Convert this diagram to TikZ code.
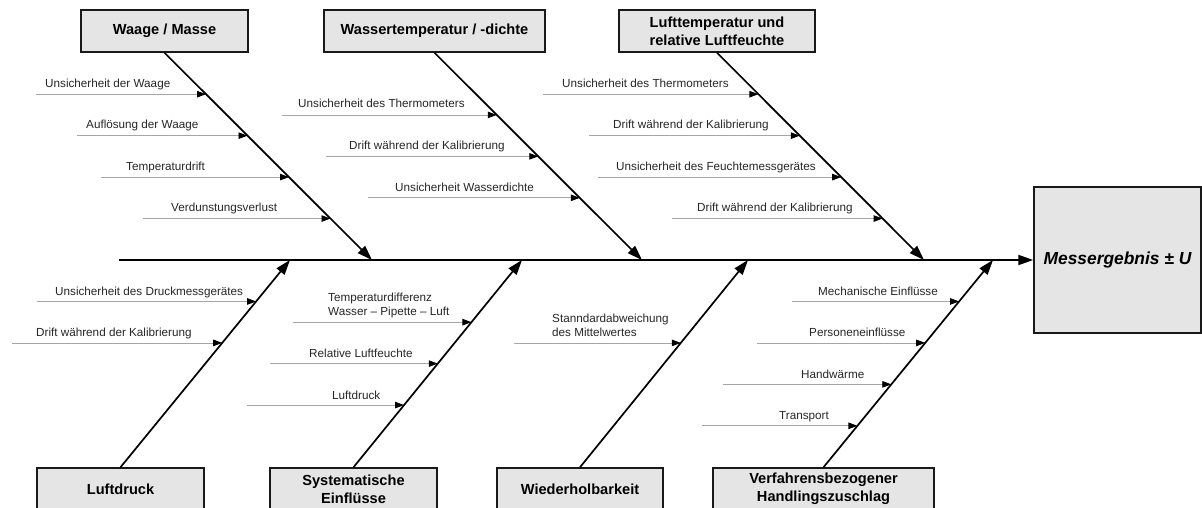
\documentclass[tikz,border=0pt]{standalone}
\usepackage{fontspec}
\setmainfont{Liberation Sans}
\usetikzlibrary{positioning,arrows.meta}
\tikzset{cause/.style = {draw=black!90, fill=black!10, line width=1.5pt, rectangle, minimum height=42pt, minimum width=167pt, align=center, font=\fontsize{14.6}{18}\selectfont\bfseries},
         result/.style = {draw=black!90, fill=black!10, line width=1.5pt, rectangle, minimum height=146pt, minimum width=167pt, font=\fontsize{17.4}{20}\selectfont\bfseries\itshape},
         bone/.style = {line width=1.7pt, -{Triangle[length=15pt,width=10pt]}},
         twig/.style = {draw=black!35, line width=0.8pt, -{Triangle[length=9pt,width=6.5pt,color=black]}},
         lbl/.style = {anchor=base west, inner sep=0pt, align=left, text=black!85, font=\fontsize{11.7}{14}\selectfont}}
\begin{document}
\begin{tikzpicture}[x=1pt,y=-1pt]
        \useasboundingbox (0,0) rectangle (1202,508);

        \node[cause] (waage) at (164.5,31) {Waage / Masse};
        \node[cause, minimum width=221pt] (wasser) at (434.5,31) {Wassertemperatur / -dichte};
        \node[cause, minimum width=196pt] (luft) at (717,31) {Lufttemperatur und\\relative Luftfeuchte};
        \node[cause] (druck) at (120.5,489) {Luftdruck};
        \node[cause] (syst) at (353.5,489) {Systematische\\Einflüsse};
        \node[cause, minimum width=166pt] (wdh) at (580,489) {Wiederholbarkeit};
        \node[cause, minimum width=221pt] (hand) at (823.5,489) {Verfahrensbezogener\\Handlingszuschlag};
        \node[result] (erg) at (1117.5,260) {Messergebnis ± U};

        \coordinate (tail) at (119,260);
        \coordinate (j1) at (372,260);
        \coordinate (j2) at (642,260);
        \coordinate (j3) at (924,260);
        \coordinate (j4) at (290,260);
        \coordinate (j5) at (522,260);
        \coordinate (j6) at (748,260);
        \coordinate (j7) at (993,260);

        \draw[bone, line width=1.9pt] (tail) -- (erg.west);
        \draw[bone] (waage.south) -- (j1);
        \draw[bone] (wasser.south) -- (j2);
        \draw[bone] (luft.south) -- (j3);
        \draw[bone] (druck.north) -- (j4);
        \draw[bone] (syst.north) -- (j5);
        \draw[bone] (wdh.north) -- (j6);
        \draw[bone] (hand.north) -- (j7);

        \path (waage.south) -- (j1) coordinate[pos=.2] (w1) coordinate[pos=.4] (w2) coordinate[pos=.6] (w3) coordinate[pos=.8] (w4);
        \path (wasser.south) -- (j2) coordinate[pos=.3] (t1) coordinate[pos=.5] (t2) coordinate[pos=.7] (t3);
        \path (luft.south) -- (j3) coordinate[pos=.2] (l1) coordinate[pos=.4] (l2) coordinate[pos=.6] (l3) coordinate[pos=.8] (l4);
        \path (druck.north) -- (j4) coordinate[pos=.6] (p1) coordinate[pos=.8] (p2);
        \path (syst.north) -- (j5) coordinate[pos=.3] (s1) coordinate[pos=.5] (s2) coordinate[pos=.7] (s3);
        \path (wdh.north) -- (j6) coordinate[pos=.6] (r1);
        \path (hand.north) -- (j7) coordinate[pos=.2] (h1) coordinate[pos=.4] (h2) coordinate[pos=.6] (h3) coordinate[pos=.8] (h4);

        \coordinate[left=170pt of w1] (w1s);
        \coordinate[left=170pt of w2] (w2s);
        \coordinate[left=188pt of w3] (w3s);
        \coordinate[left=188pt of w4] (w4s);
        \coordinate[left=215pt of t1] (t1s);
        \coordinate[left=212pt of t2] (t2s);
        \coordinate[left=212pt of t3] (t3s);
        \coordinate[left=215pt of l1] (l1s);
        \coordinate[left=211pt of l2] (l2s);
        \coordinate[left=243pt of l3] (l3s);
        \coordinate[left=211pt of l4] (l4s);
        \coordinate[left=210pt of p1] (p1s);
        \coordinate[left=219pt of p2] (p2s);
        \coordinate[left=157pt of s1] (s1s);
        \coordinate[left=168pt of s2] (s2s);
        \coordinate[left=178pt of s3] (s3s);
        \coordinate[left=167pt of r1] (r1s);
        \coordinate[left=155pt of h1] (h1s);
        \coordinate[left=168pt of h2] (h2s);
        \coordinate[left=168pt of h3] (h3s);
        \coordinate[left=167pt of h4] (h4s);

        \foreach \c in {w1,w2,w3,w4,t1,t2,t3,l1,l2,l3,l4,p1,p2,s1,s2,s3,r1,h1,h2,h3,h4}
                \draw[twig] (\c s) -- (\c);

        \node[lbl] (w1l) at (45,87.1) {Unsicherheit der Waage};
        \node[lbl] (w2l) at (86,128.7) {Auflösung der Waage};
        \node[lbl] (w3l) at (126,170.3) {Temperaturdrift};
        \node[lbl] (w4l) at (171,211.9) {Verdunstungsverlust};
        \node[lbl] (t1l) at (298,107.9) {Unsicherheit des Thermometers};
        \node[lbl] (t2l) at (349,149.5) {Drift während der Kalibrierung};
        \node[lbl] (t3l) at (395,191.1) {Unsicherheit Wasserdichte};
        \node[lbl] (l1l) at (562,87.1) {Unsicherheit des Thermometers};
        \node[lbl] (l2l) at (613,128.7) {Drift während der Kalibrierung};
        \node[lbl] (l3l) at (616,170.3) {Unsicherheit des Feuchtemessgerätes};
        \node[lbl] (l4l) at (697,211.9) {Drift während der Kalibrierung};
        \node[lbl] (p2l) at (55,295.1) {Unsicherheit des Druckmessgerätes};
        \node[lbl] (p1l) at (36,336.7) {Drift während der Kalibrierung};
        \node[lbl] (s3l) at (328,315.9) {Temperaturdifferenz\\Wasser -- Pipette -- Luft};
        \node[lbl] (s2l) at (309,357.5) {Relative Luftfeuchte};
        \node[lbl] (s1l) at (332,399.1) {Luftdruck};
        \node[lbl] (r1l) at (552,336.7) {Stanndardabweichung\\des Mittelwertes};
        \node[lbl] (h4l) at (818,295.1) {Mechanische Einflüsse};
        \node[lbl] (h3l) at (809,336.7) {Personeneinflüsse};
        \node[lbl] (h2l) at (801,378.3) {Handwärme};
        \node[lbl] (h1l) at (779,419.9) {Transport};
\end{tikzpicture}
\end{document}
